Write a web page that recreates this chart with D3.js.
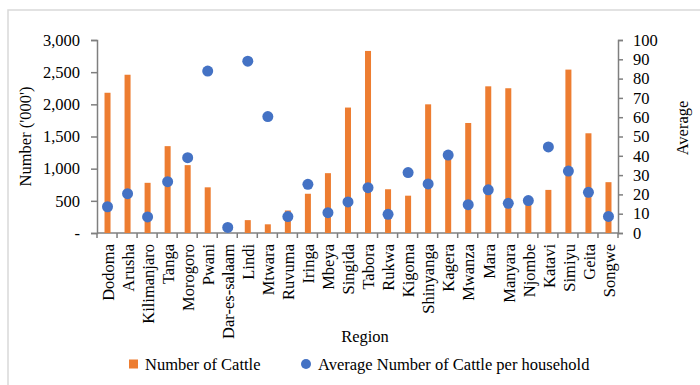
<!DOCTYPE html>
<html>
<head>
<meta charset="utf-8">
<script src="https://cdn.jsdelivr.net/npm/d3@7"></script>
<style>
  body { margin: 0; background: #fff; }
  svg text { font-family: "Liberation Serif", "Times New Roman", serif; fill: #000; }
</style>
</head>
<body>
<div id="chart"></div>
<script>
// data
const regions = ["Dodoma", "Arusha", "Kilimanjaro", "Tanga", "Morogoro", "Pwani", "Dar-es-salaam",
  "Lindi", "Mtwara", "Ruvuma", "Iringa", "Mbeya", "Singida", "Tabora", "Rukwa", "Kigoma",
  "Shinyanga", "Kagera", "Mwanza", "Mara", "Manyara", "Njombe", "Katavi", "Simiyu", "Geita", "Songwe"];
const cattle = [2180, 2460, 780, 1350, 1055, 710, 0, 200, 135, 350, 610, 930, 1950, 2830, 680,
  580, 2000, 1190, 1710, 2280, 2250, 485, 670, 2540, 1550, 790];
const avgPerHousehold = [13.6, 20.4, 8.3, 26.6, 39.0, 83.9, 2.9, 89.0, 60.3, 8.5, 25.2, 10.5, 16.1,
  23.5, 9.7, 31.3, 25.4, 40.4, 14.7, 22.4, 15.4, 16.8, 44.6, 32.1, 21.1, 8.6];
const leftTicks = [0, 500, 1000, 1500, 2000, 2500, 3000];
const rightTicks = [0, 10, 20, 30, 40, 50, 60, 70, 80, 90, 100];

(function cattleChart(){
  let width = 700, height = 385,
    margin = ({top: 40, right: 82, bottom: 152, left: 97});

  const svg = d3.select("#chart")
    .append("svg")
    .attr("width", width)
    .attr("height", height);

  // light frame, only top and left visible in the reference
  svg.append("path")
    .attr("d", `M8,${height} L8,10 L${width},10`)
    .attr("fill", "none")
    .attr("stroke", "#d9d9d9")
    .attr("stroke-width", 1.5);

  let xScale = d3.scaleBand()
    .domain(regions)
    .range([margin.left, width - margin.right]);

  let yLeft = d3.scaleLinear()
    .domain([0, 3000])
    .range([height - margin.bottom, margin.top]);

  let yRight = d3.scaleLinear()
    .domain([0, 100])
    .range([height - margin.bottom, margin.top]);

  const axisColor = "#7f7f7f";
  const fontSize = "16.5px";
  const base = height - margin.bottom;

  // left axis
  const leftAxis = svg.append("g")
    .attr("transform", `translate(${margin.left},0)`)
    .call(d3.axisLeft(yLeft).tickValues(leftTicks).tickSize(6).tickPadding(11)
      .tickFormat(d => d === 0 ? "-" : d3.format(",")(d)));
  leftAxis.selectAll("text").style("font-size", fontSize).style("font-family", "Liberation Serif");

  // right axis
  const rightAxis = svg.append("g")
    .attr("transform", `translate(${width - margin.right},0)`)
    .call(d3.axisRight(yRight).tickValues(rightTicks).tickSize(5).tickPadding(10));
  rightAxis.selectAll("text").style("font-size", fontSize).style("font-family", "Liberation Serif");

  [leftAxis, rightAxis].forEach(a => {
    a.select(".domain").attr("stroke", axisColor).attr("stroke-width", 1.5);
    a.selectAll(".tick line").attr("stroke", axisColor).attr("stroke-width", 1.5);
  });

  // bottom axis: line with ticks on category boundaries
  const bottom = svg.append("g").classed("x axis", true);
  bottom.append("line")
    .attr("x1", margin.left).attr("x2", width - margin.right)
    .attr("y1", base).attr("y2", base)
    .attr("stroke", axisColor).attr("stroke-width", 1.5);
  const bounds = regions.map(r => xScale(r)).concat([width - margin.right]);
  bottom.selectAll("line.tick")
    .data(bounds)
    .join("line")
    .classed("tick", true)
    .attr("x1", d => d).attr("x2", d => d)
    .attr("y1", base).attr("y2", base + 5)
    .attr("stroke", axisColor).attr("stroke-width", 1.5);

  // bars
  const barW = xScale.bandwidth() * 0.3;
  svg.append("g")
    .selectAll("rect")
    .data(regions)
    .join("rect")
    .attr("x", (d) => xScale(d) + xScale.bandwidth() / 2 - barW / 2 + 0.5)
    .attr("y", (d, i) => yLeft(cattle[i]))
    .attr("width", barW)
    .attr("height", (d, i) => base - yLeft(cattle[i]))
    .attr("fill", "#ed7d31");

  // dots
  svg.append("g")
    .selectAll("circle")
    .data(regions)
    .join("circle")
    .attr("cx", d => xScale(d) + xScale.bandwidth() / 2 + 0.5)
    .attr("cy", (d, i) => yRight(avgPerHousehold[i]))
    .attr("r", 5.5)
    .attr("fill", "#4472c4");

  // category labels
  svg.append("g")
    .selectAll("text")
    .data(regions)
    .join("text")
    .attr("transform", d => `translate(${xScale(d) + xScale.bandwidth() / 2 + 1},${base + 11}) rotate(-90)`)
    .attr("dy", "0.35em")
    .attr("text-anchor", "end")
    .style("font-size", fontSize)
    .text(d => d);

  // axis titles
  svg.append("text")
    .attr("transform", `translate(25,${(margin.top + base) / 2}) rotate(-90)`)
    .attr("dy", "0.35em")
    .attr("text-anchor", "middle")
    .style("font-size", fontSize)
    .text("Number ('000')");

  svg.append("text")
    .attr("transform", `translate(682,128) rotate(-90)`)
    .attr("dy", "0.35em")
    .attr("text-anchor", "middle")
    .style("font-size", fontSize)
    .text("Average");

  svg.append("text")
    .attr("x", 365)
    .attr("y", 342)
    .attr("text-anchor", "middle")
    .style("font-size", fontSize)
    .text("Region");

  // legend
  const legend = svg.append("g").attr("transform", "translate(0,364)");
  legend.append("rect")
    .attr("x", 129).attr("y", -4.5).attr("width", 9).attr("height", 9)
    .attr("fill", "#ed7d31");
  legend.append("text")
    .attr("x", 145).attr("dy", "0.35em")
    .style("font-size", fontSize)
    .text("Number of Cattle");
  legend.append("circle")
    .attr("cx", 306).attr("r", 5)
    .attr("fill", "#4472c4");
  legend.append("text")
    .attr("x", 318).attr("dy", "0.35em")
    .style("font-size", fontSize)
    .text("Average Number of Cattle per household");

  return svg.node();
})();
</script>
</body>
</html>
